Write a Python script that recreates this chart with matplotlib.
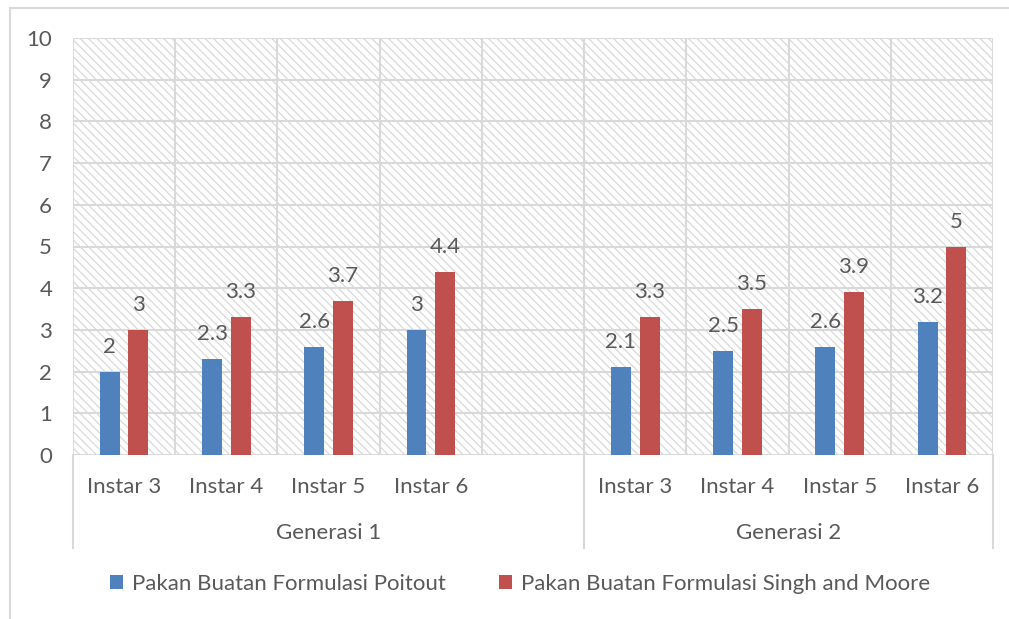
import matplotlib.pyplot as plt
from matplotlib.patches import Rectangle, Patch
import matplotlib.transforms as mtransforms
import numpy as np

plt.rcParams['font.family'] = ['Lato', 'DejaVu Sans']
plt.rcParams['hatch.linewidth'] = 0.9
plt.rcParams['hatch.color'] = '#dcdcdc'

# data
instars = ['Instar 3', 'Instar 4', 'Instar 5', 'Instar 6', '',
           'Instar 3', 'Instar 4', 'Instar 5', 'Instar 6']
groups = ['Generasi 1', 'Generasi 2']
series_names = ['Pakan Buatan Formulasi Poitout', 'Pakan Buatan Formulasi Singh and Moore']
poitout = [2, 2.3, 2.6, 3, None, 2.1, 2.5, 2.6, 3.2]
singh_moore = [3, 3.3, 3.7, 4.4, None, 3.3, 3.5, 3.9, 5]

blue = '#4F81BD'
red = '#C0504D'
txt = '#595959'
grid_c = '#d9d9d9'
fs = 16

fig = plt.figure(figsize=(10.09, 6.19), dpi=100)
ax = fig.add_axes([73 / 1009, 1 - 455 / 619, (993 - 73) / 1009, (455 - 38) / 619])

# outer chart border
fig.patches.append(Rectangle((10 / 1009, -0.05), 1.1, 1 - 8 / 619 + 0.05, transform=fig.transFigure,
                             facecolor='none', edgecolor=grid_c, lw=1.5))

# hatched plot area
ax.patch.set_visible(False)
ax.add_patch(Rectangle((0, 0), 1, 1, transform=ax.transAxes, facecolor='white',
                       edgecolor=grid_c, hatch='\\\\\\\\', lw=0, zorder=0))

x = np.arange(len(instars))
w = 0.195
off = 0.14
for vals, color, sign in [(poitout, blue, -1), (singh_moore, red, 1)]:
    for xi, v in zip(x, vals):
        if v is None:
            continue
        ax.bar(xi + sign * off, v, width=w, color=color, zorder=3)
        ax.annotate(f'{v:g}', (xi + sign * off, v), xytext=(0, 18), textcoords='offset points',
                    ha='center', va='center', fontsize=fs, color=txt)

ax.set_xlim(-0.5, len(instars) - 0.5)
ax.set_ylim(0, 10)
ax.set_yticks(range(0, 11))
ax.set_xticks([])
for xb in np.arange(-0.5, len(instars), 1.0):
    ax.axvline(xb, color=grid_c, lw=1.5, zorder=1)
for yv in range(0, 11):
    ax.axhline(yv, color=grid_c, lw=1.5, zorder=1)
for s in ax.spines.values():
    s.set_visible(False)
ax.tick_params(axis='y', length=0, pad=15, labelsize=fs, labelcolor=txt)

trans = mtransforms.blended_transform_factory(ax.transData, ax.transAxes)
for xb in [-0.5, 4.5, 8.5]:
    ax.plot([xb, xb], [0, -93 / 417], color=grid_c, lw=1.5, transform=trans, clip_on=False)
for xi, lab in zip(x, instars):
    ax.text(xi, -32 / 417, lab, transform=trans, ha='center', va='center', fontsize=fs, color=txt)
ax.text(2.0, -78 / 417, groups[0], transform=trans, ha='center', va='center', fontsize=fs, color=txt)
ax.text(6.5, -78 / 417, groups[1], transform=trans, ha='center', va='center', fontsize=fs, color=txt)

handles = [Patch(facecolor=blue, label=series_names[0]), Patch(facecolor=red, label=series_names[1])]
leg = fig.legend(handles=handles, loc='center', bbox_to_anchor=(520 / 1009, 1 - 584 / 619), ncol=2,
                 frameon=False, fontsize=fs, handlelength=0.6, handleheight=0.6,
                 handletextpad=0.4, columnspacing=2.4)
for t in leg.get_texts():
    t.set_color(txt)

fig.savefig('out.png', dpi=100)
